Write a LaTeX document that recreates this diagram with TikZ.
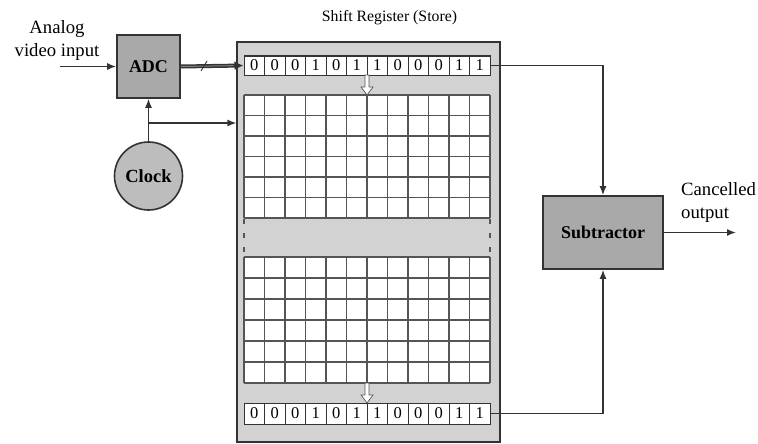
\documentclass[tikz,border=0pt]{standalone}
\usepackage{fontspec}
\setmainfont{Liberation Serif}
\usetikzlibrary{arrows.meta,calc}
\definecolor{ink}{HTML}{333333}
\definecolor{panelgray}{HTML}{D2D2D2}
\definecolor{boxgray}{HTML}{A9A9A9}
\definecolor{clockgray}{HTML}{BDBDBD}
\definecolor{gridink}{HTML}{555555}
\begin{document}
\begin{tikzpicture}[x=1pt,y=-1pt,
  conn/.style={draw=ink,line width=1.4pt,-{Latex[length=9pt,width=7pt]}},
  block/.style={draw=ink,line width=1.6pt,fill=boxgray,font=\fontsize{18}{20}\selectfont\bfseries,inner sep=0pt},
  cell/.style={draw=ink,line width=0.8pt,fill=white,minimum width=20.5pt,inner sep=0pt,font=\fontsize{16.5}{16}\selectfont},
  gridline/.style={draw=gridink,line width=1.6pt},
  lbl/.style={font=\fontsize{18.7}{23}\selectfont,inner sep=0pt}
]
\useasboundingbox (0,0) rectangle (758,444);
% panel
\node[draw=ink,line width=1.2pt,fill=panelgray,minimum width=263pt,minimum height=400pt,inner sep=0pt] (panel) at (368.5,242) {};
\node[font=\fontsize{15.8}{18}\selectfont] (title) at (389.5,18) {Shift Register (Store)};
% top register
\node[draw=ink,line width=1pt,minimum width=246pt,minimum height=19pt,inner sep=0pt] (topreg) at (367,65.5) {};
\foreach \d [count=\i from 0] in {0,0,0,1,0,1,1,0,0,0,1,1}
  \node[cell,minimum height=19pt] (t\i) at (254.25+\i*20.5,65.5) {\d};
% bottom register
\node[draw=ink,line width=1pt,minimum width=246pt,minimum height=21pt,inner sep=0pt] (botreg) at (367,413.5) {};
\foreach \d [count=\i from 0] in {0,0,0,1,0,1,1,0,0,0,1,1}
  \node[cell,minimum height=21pt] (b\i) at (254.25+\i*20.5,413.5) {\d};
% grids
\fill[white] (244,95) rectangle (490,218);
\fill[white] (244,257) rectangle (490,383);
\foreach \i in {0,...,12} {
  \draw[gridline] (244+\i*20.5,95) -- (244+\i*20.5,218);
  \draw[gridline] (244+\i*20.5,257) -- (244+\i*20.5,383);
}
\foreach \j in {0,...,6} {
  \draw[gridline] (244,95+\j*20.5) -- (490,95+\j*20.5);
  \draw[gridline] (244,257+\j*21) -- (490,257+\j*21);
}
% gray band
\fill[panelgray] (244,219) rectangle (490,256);
\draw[gridline,dash pattern=on 5pt off 9pt] (244,219) -- (244,257);
\draw[gridline,dash pattern=on 5pt off 9pt] (490,219) -- (490,257);
% small hollow arrows
\draw[draw=gridink,line width=0.7pt,fill=white] (365,75) -- (369,75) -- (369,87) -- (373,87) -- (367,95) -- (361,87) -- (365,87) -- cycle;
\draw[draw=gridink,line width=0.7pt,fill=white] (365,383) -- (369,383) -- (369,395) -- (373,395) -- (367,403) -- (361,395) -- (365,395) -- cycle;
% ADC
\node[block,minimum width=63pt,minimum height=63pt] (adc) at (148.5,66.5) {ADC};
\node[lbl,align=center] (inlbl) at (57,41) {Analog\\video input};
\coordinate (in) at (60,66.5);
\draw[conn] (in) -- (adc.west);
% bus
\draw[draw=ink,line width=4pt,-{Latex[length=9pt,width=9pt]}] (adc.east) -- (topreg.west);
\draw[draw=gray,line width=1pt,shorten >=10pt] (adc.east) -- (topreg.west);
\coordinate (sl) at (204,66);
\draw[draw=ink,line width=0.9pt] ($(sl)+(-3,5)$) -- ($(sl)+(3,-5)$);
% clock
\node[draw=ink,line width=1.6pt,fill=clockgray,circle,minimum size=68pt,inner sep=0pt,font=\fontsize{18.5}{20}\selectfont\bfseries] (clock) at (148.5,176) {Clock};
\draw[conn] (clock.north) -- (adc.south);
\coordinate (br) at (148.5,123);
\draw[conn] (br) -- (br -| panel.west);
% subtractor
\node[block,minimum width=120pt,minimum height=73pt] (sub) at (603,232.5) {Subtractor};
\draw[conn] (topreg.east) -| (sub.north);
\draw[conn] (botreg.east) -| (sub.south);
\coordinate (out) at (736,232.5);
\draw[conn] (sub.east) -- (out);
\node[lbl,align=left,anchor=north west] (outlbl) at (681,182) {Cancelled\\output};
\end{tikzpicture}
\end{document}
